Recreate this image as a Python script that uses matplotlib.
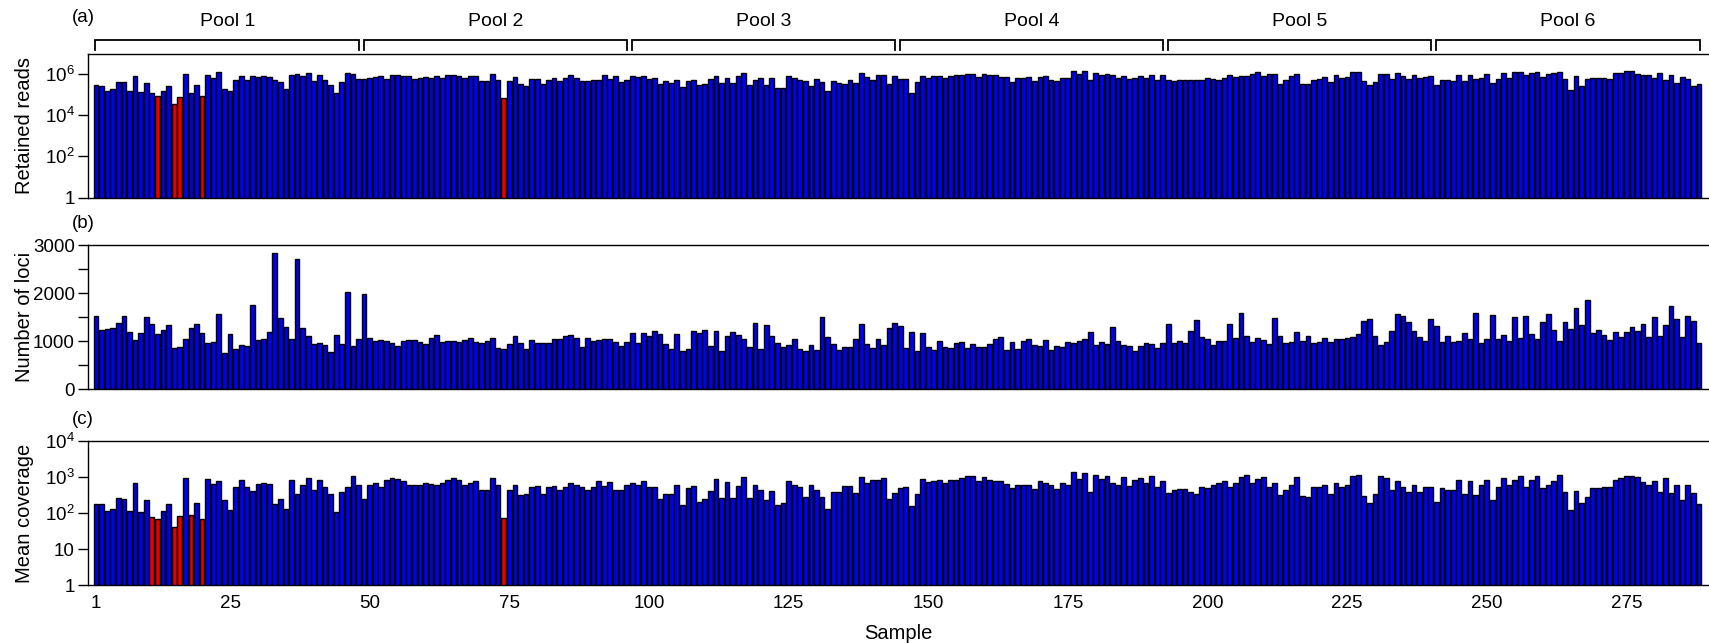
import matplotlib
matplotlib.use("Agg")
import matplotlib.pyplot as plt
from matplotlib.transforms import blended_transform_factory
import numpy as np

plt.rcParams['font.family'] = ['Liberation Sans', 'DejaVu Sans']
plt.rcParams['mathtext.fontset'] = 'custom'
plt.rcParams['mathtext.rm'] = 'Liberation Sans'
plt.rcParams['mathtext.it'] = 'Liberation Sans:italic'
plt.rcParams['mathtext.bf'] = 'Liberation Sans:bold'

# ---------------- data ----------------
pool_names = ["Pool 1", "Pool 2", "Pool 3", "Pool 4", "Pool 5", "Pool 6"]
samples_per_pool = 48

# (a) retained reads, in thousands (two rows per pool)
retained_reads_k = [
    288, 251, 158, 182, 398, 398, 145, 794, 132, 363, 126, 83, 145, 251, 36, 79, 1047, 126, 288, 83, 912, 661, 1259, 182,
    151, 501, 832, 525, 794, 724, 794, 724, 525, 398, 182, 912, 1000, 832, 1096, 457, 871, 501, 288, 120, 398, 1148, 1000, 575,
    575, 631, 724, 794, 575, 871, 912, 832, 794, 603, 631, 724, 661, 794, 661, 871, 912, 832, 631, 794, 794, 457, 457, 1047,
    525, 66, 457, 724, 316, 263, 575, 575, 347, 525, 631, 457, 631, 871, 661, 457, 457, 501, 501, 871, 575, 794, 398, 525,
    832, 724, 794, 575, 631, 316, 457, 363, 501, 229, 457, 525, 288, 331, 575, 832, 363, 631, 363, 794, 1148, 288, 525, 631,
    288, 631, 209, 219, 794, 661, 501, 457, 251, 603, 398, 145, 457, 363, 331, 501, 363, 1148, 724, 525, 871, 912, 331, 832,
    550, 575, 126, 398, 832, 661, 832, 794, 661, 832, 871, 871, 1047, 1047, 724, 955, 912, 912, 692, 692, 417, 631, 631, 692,
    457, 724, 794, 525, 457, 631, 631, 1445, 1000, 1445, 501, 1096, 871, 1047, 912, 661, 832, 550, 661, 832, 631, 912, 501, 871,
    525, 479, 525, 525, 501, 501, 501, 631, 550, 525, 661, 871, 724, 794, 794, 1000, 1202, 832, 1000, 1047, 331, 501, 794, 1047,
    347, 347, 501, 575, 724, 417, 871, 631, 724, 1259, 1318, 457, 288, 417, 1000, 955, 575, 1148, 794, 575, 871, 631, 724, 794,
    288, 501, 525, 457, 871, 457, 871, 550, 631, 955, 363, 575, 1148, 661, 1318, 1259, 912, 1096, 1202, 692, 1000, 1096, 1259, 603,
    166, 794, 263, 575, 631, 631, 631, 575, 1148, 1148, 1445, 1445, 1000, 912, 912, 631, 1148, 501, 912, 380, 759, 575, 263, 316,
]

# (b) number of loci
number_of_loci = [
    1528, 1229, 1250, 1264, 1382, 1521, 1187, 1014, 1174, 1493, 1361, 1139, 1222, 1326, 847, 882, 1035, 1278, 1361, 1174, 951, 986, 1562, 743,
    1153, 833, 917, 896, 1750, 1014, 1042, 1180, 2826, 1486, 1285, 1049, 2701, 1271, 1104, 944, 951, 910, 764, 1118, 937, 2014, 903, 1035,
    1972, 1062, 1007, 1014, 1000, 958, 896, 1007, 1021, 1021, 986, 944, 1056, 1118, 986, 1007, 1000, 986, 1028, 1056, 986, 951, 1000, 1056,
    847, 833, 937, 1111, 951, 826, 1014, 965, 958, 951, 1042, 1049, 1104, 1125, 1062, 868, 1056, 1007, 1014, 1035, 1035, 979, 896, 986,
    1160, 965, 1160, 1111, 1215, 1146, 944, 840, 1139, 792, 840, 1208, 1174, 1229, 896, 1201, 799, 1104, 1180, 1118, 1042, 882, 1368, 833,
    1333, 1097, 965, 868, 917, 1035, 826, 792, 910, 806, 1493, 1083, 931, 812, 875, 868, 1042, 1347, 931, 861, 1035, 924, 1264, 1368,
    1312, 847, 1187, 792, 1160, 882, 812, 1000, 882, 847, 951, 986, 847, 937, 868, 868, 931, 1042, 1076, 812, 979, 826, 1000, 1049,
    910, 903, 1021, 812, 889, 868, 986, 965, 1000, 1035, 1194, 917, 986, 931, 1292, 1007, 910, 889, 792, 896, 951, 937, 854, 965,
    1347, 965, 1000, 958, 1208, 1444, 1076, 1042, 917, 1000, 993, 1347, 1056, 1583, 1104, 986, 1069, 1014, 937, 1486, 1111, 951, 979, 1187,
    1000, 1100, 951, 986, 1069, 986, 1035, 1042, 1062, 1083, 1153, 1417, 1458, 1097, 910, 986, 1215, 1569, 1514, 1396, 1201, 1090, 1000, 1458,
    1319, 972, 1104, 979, 993, 1160, 1035, 1590, 965, 1042, 1535, 1042, 1125, 993, 1493, 1069, 1521, 1146, 1042, 1396, 1556, 1229, 1000, 1389,
    1243, 1687, 1333, 1854, 1174, 1236, 1125, 1014, 1194, 1083, 1187, 1285, 1208, 1347, 1076, 1507, 1111, 1326, 1722, 1451, 1090, 1514, 1410, 965,
]

# (c) mean coverage
mean_coverage = [
    178, 178, 114, 127, 265, 245, 111, 665, 105, 232, 77, 69, 114, 174, 42, 85, 912, 90, 188, 67, 865, 631, 759, 232,
    120, 539, 821, 539, 414, 631, 701, 631, 178, 245, 127, 821, 344, 583, 936, 425, 821, 511, 327, 105, 393, 511, 1040, 583,
    251, 615, 701, 539, 821, 912, 865, 759, 583, 583, 583, 701, 631, 615, 665, 821, 912, 800, 615, 701, 759, 425, 425, 912,
    583, 71, 448, 583, 318, 327, 539, 553, 344, 511, 553, 425, 511, 701, 583, 511, 448, 511, 759, 553, 720, 425, 448, 615,
    701, 583, 759, 511, 539, 245, 327, 327, 583, 169, 485, 553, 204, 245, 414, 865, 265, 720, 265, 553, 987, 265, 583, 448,
    232, 414, 165, 188, 759, 583, 511, 279, 615, 425, 279, 127, 393, 393, 553, 553, 363, 987, 701, 800, 821, 936, 245, 363,
    485, 511, 156, 327, 865, 720, 759, 821, 665, 800, 800, 912, 1068, 1068, 759, 987, 800, 759, 759, 631, 485, 583, 583, 583,
    472, 759, 701, 583, 472, 665, 583, 1352, 865, 1284, 393, 1125, 865, 1068, 701, 583, 987, 553, 821, 912, 665, 1040, 511, 759,
    363, 448, 472, 472, 393, 327, 511, 485, 583, 701, 759, 511, 701, 987, 1125, 665, 865, 987, 511, 665, 318, 448, 583, 987,
    302, 279, 511, 539, 615, 344, 701, 511, 583, 1068, 1125, 302, 188, 344, 1040, 912, 448, 759, 511, 393, 615, 393, 511, 511,
    204, 485, 448, 425, 800, 344, 759, 318, 583, 800, 232, 511, 912, 615, 800, 1040, 539, 821, 1040, 485, 583, 759, 1125, 393,
    120, 414, 188, 286, 485, 485, 511, 539, 821, 936, 1068, 1068, 987, 720, 583, 759, 393, 912, 363, 583, 232, 583, 363, 178,
]

flagged_reads = [12, 15, 16, 20, 74]
flagged_coverage = [11, 12, 15, 16, 18, 20, 74]

x_tick_labels = ["1", "25", "50", "75", "100", "125", "150", "175", "200", "225", "250", "275"]
reads_ticks = [1, 1e2, 1e4, 1e6]
reads_tick_labels = ["1", "$10^2$", "$10^4$", "$10^6$"]
loci_ticks = [0, 1000, 2000, 3000]
loci_minor_ticks = [500, 1500, 2500]
cov_ticks = [1, 10, 1e2, 1e3, 1e4]
cov_tick_labels = ["1", "10", "$10^2$", "$10^3$", "$10^4$"]

# ---------------- figure ----------------
BLUE = "#0000F5"
RED = "#E60000"

samples = np.arange(1, len(number_of_loci) + 1)
reads = np.array(retained_reads_k, dtype=float) * 1000.0
loci = np.array(number_of_loci, dtype=float)
cov = np.array(mean_coverage, dtype=float)

fig = plt.figure(figsize=(17.09, 6.43), dpi=100)
W_PX, H_PX = 1709.0, 643.0
left = 88 / W_PX
width = 1.0 - left
AX_W_PX = W_PX - 88
AX_H_PX = 144.0


def ax_rect(top_px, bottom_px):
    return [left, 1 - bottom_px / H_PX, width, (bottom_px - top_px) / H_PX]


axA = fig.add_axes(ax_rect(53.5, 197.5))
axB = fig.add_axes(ax_rect(245.0, 389.0))
axC = fig.add_axes(ax_rect(441.0, 585.0))

xlim = (-0.43, 289.8)
TICKFS = 13.5
LABFS = 14.5


def colours(flagged):
    return [RED if s in flagged else BLUE for s in samples]


bar_kw = dict(width=0.85, edgecolor="black", linewidth=1.0)

axA.bar(samples, reads, color=colours(flagged_reads), **bar_kw)
axA.set_yscale("log")
axA.set_ylim(1, 1e7)
axA.set_yticks(reads_ticks)
axA.set_yticklabels(reads_tick_labels)
axA.yaxis.set_minor_locator(matplotlib.ticker.NullLocator())
axA.set_ylabel("Retained reads", fontsize=LABFS)

axB.bar(samples, loci, color=BLUE, **bar_kw)
axB.set_ylim(0, 3000)
axB.set_yticks(loci_ticks)
axB.set_yticks(loci_minor_ticks, minor=True)
axB.set_ylabel("Number of loci", fontsize=LABFS)

axC.bar(samples, cov, color=colours(flagged_coverage), **bar_kw)
axC.set_yscale("log")
axC.set_ylim(1, 1e4)
axC.set_yticks(cov_ticks)
axC.set_yticklabels(cov_tick_labels)
axC.yaxis.set_minor_locator(matplotlib.ticker.NullLocator())
axC.set_ylabel("Mean coverage", fontsize=LABFS)
axC.set_xlabel("Sample", fontsize=LABFS, labelpad=9)

x_tick_pos = [int(t) for t in x_tick_labels]
for ax in (axA, axB, axC):
    ax.set_xlim(*xlim)
    ax.spines["right"].set_visible(False)
    for sp in ("left", "top", "bottom"):
        ax.spines[sp].set_linewidth(1.0)
    ax.tick_params(axis="y", which="both", direction="out", length=7.5, width=1.0,
                   labelsize=TICKFS, pad=2)
    ax.yaxis.set_label_coords(-54 / AX_W_PX, 0.5)
    if ax is axC:
        ax.set_xticks(x_tick_pos)
        ax.set_xticklabels(x_tick_labels)
        ax.tick_params(axis="x", length=0, labelsize=TICKFS, pad=7)
    else:
        ax.set_xticks([])

# panel letters
for ax, letter, dy in ((axA, "(a)", 36), (axB, "(b)", 21), (axC, "(c)", 21)):
    ax.text(-5 / AX_W_PX, 1.0 + dy / AX_H_PX, letter, transform=ax.transAxes,
            ha="center", va="center", fontsize=TICKFS)

# pool brackets
trans = blended_transform_factory(axA.transData, axA.transAxes)
y_line = (197.5 - 40.0) / AX_H_PX
y_tip = (197.5 - 49.5) / AX_H_PX
y_text = (197.5 - 22.0) / AX_H_PX
for i, name in enumerate(pool_names):
    first = i * samples_per_pool + 1
    last = (i + 1) * samples_per_pool
    x0 = first - 0.1
    x1 = last + 0.1
    axA.plot([x0, x0, x1, x1], [y_tip, y_line, y_line, y_tip], color="black",
             lw=1.3, transform=trans, clip_on=False, solid_joinstyle="miter")
    axA.text((x0 + x1) / 2, y_text, name, transform=trans, ha="center",
             va="center", fontsize=TICKFS + 0.5)

fig.savefig("out.png", dpi=100)
